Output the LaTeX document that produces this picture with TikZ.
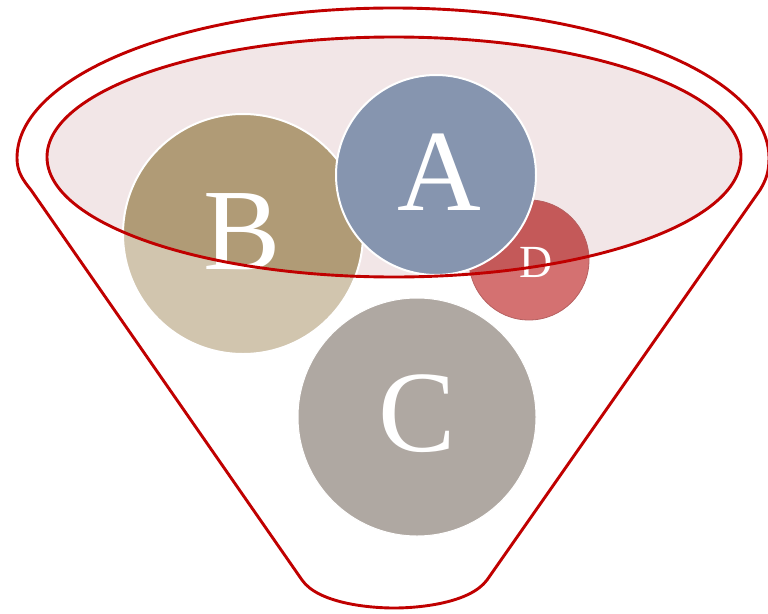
\documentclass[tikz,border=0pt]{standalone}
\usepackage{fontspec}
\setmainfont{Liberation Serif}
\definecolor{rimred}{RGB}{192,0,0}
\definecolor{mouthpink}{RGB}{242,230,231}
\definecolor{Acol}{RGB}{134,149,175}
\definecolor{Bdark}{RGB}{176,155,118}
\definecolor{Blight}{RGB}{209,197,174}
\definecolor{Ccol}{RGB}{175,168,162}
\definecolor{Ddark}{RGB}{196,89,89}
\definecolor{Dlight}{RGB}{212,113,113}
\tikzset{
  rim/.style={draw=rimred, line width=2.9pt, line join=round},
  ring/.style={draw=white, line width=2pt},
  bigletter/.style={text=white, inner sep=0pt, font=\fontsize{116}{116}\selectfont},
  smallletter/.style={text=white, inner sep=0pt, font=\fontsize{46}{46}\selectfont}
}
\begin{document}
\begin{tikzpicture}[x=1pt,y=-1pt]
\useasboundingbox (0,0) rectangle (768,613);
% funnel outline
\draw[rim] (17,158) arc[start angle=180, end angle=360, x radius=376, y radius=150]
  .. controls (769,172) and (766,180) .. (760,190)
  -- (487,580)
  .. controls (470,603) and (420,608) .. (394,608)
  .. controls (368,608) and (318,603) .. (302,580)
  -- (31,190)
  .. controls (23,180) and (17,172) .. (17,158) -- cycle;
% mouth fill
\fill[mouthpink] (394,157) ellipse [x radius=347, y radius=120];
% circle B
\fill[Blight] (243,234) circle [radius=120];
\begin{scope}
  \clip (394,157) ellipse [x radius=347, y radius=120];
  \fill[Bdark] (243,234) circle [radius=120];
\end{scope}
\draw[ring] (243,234) circle [radius=120];
\node[bigletter] (B) at (242,232) {B};
% circle C
\fill[Ccol] (417,417) circle [radius=119];
\draw[draw=white, line width=1pt] (417,417) circle [radius=119];
\node[bigletter] (C) at (417,414) {C};
% circle D
\fill[Dlight] (529,260) circle [radius=60];
\begin{scope}
  \clip (394,157) ellipse [x radius=347, y radius=120];
  \fill[Ddark] (529,260) circle [radius=60];
\end{scope}
\draw[draw=Ddark!80!gray, line width=0.8pt] (529,260) circle [radius=60];
\node[smallletter] (D) at (536,262) {D};
% circle A
\fill[Acol] (436,175) circle [radius=100];
\draw[ring] (436,175) circle [radius=100];
\node[bigletter] (A) at (439,172) {A};
% mouth rim
\draw[rim] (394,157) ellipse [x radius=347, y radius=120];
\end{tikzpicture}
\end{document}
